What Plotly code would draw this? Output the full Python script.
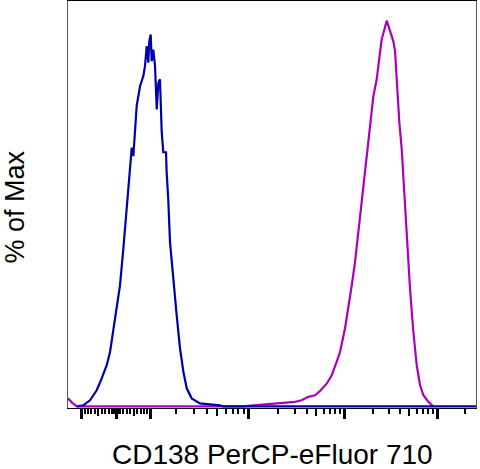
import numpy as np
import plotly.graph_objects as go

# ---- data: histogram traces on logicle display channels (0..256), % of Max ----
blue_ch = [5.5, 9.6, 13.8, 18.0, 21.1, 24.3, 26.4, 28.4, 30.6, 32.6, 34.7, 36.8, 38.9,
           40.0, 41.0, 41.4, 43.1, 45.2, 47.3, 48.3, 49.4, 50.4, 51.0, 51.9, 52.5, 53.5,
           54.6, 55.7, 56.7, 57.7, 58.8, 59.8, 61.5, 61.9, 62.9, 64.0, 66.1, 68.2, 70.3,
           72.4, 74.5, 77.6, 82.8, 95.4, 97.5, 256]
blue_pct = [0, 0.3, 1.6, 4.2, 7.2, 10.7, 14.2, 19.4, 25.3, 31.3, 40.8, 51.2, 62.4,
            67.1, 64.9, 67.5, 77.9, 83.0, 85.7, 88.2, 93.4, 89.1, 94.7, 96.4, 89.5, 92.5,
            88.2, 77.0, 83.9, 84.8, 71.1, 65.9, 65.9, 60.7, 53.7, 42.6, 32.3, 23.6, 15.0,
            9.0, 4.7, 2.1, 0.8, 0.3, 0, 0]

mag_ch = [0, 2.5, 5.5, 110, 116.3, 134.1, 142.4, 146.6, 150.8, 155.0, 158.1, 162.3,
          165.5, 168.6, 170.7, 173.8, 175.9, 178.0, 180.1, 182.2, 184.3, 187.4, 189.5,
          191.6, 193.7, 195.8, 196.8, 200.0, 204.1, 205.2, 206.3, 207.9, 209.4, 211.5,
          212.5, 214.6, 216.7, 218.8, 220.9, 223.0, 226.1, 229.2]
mag_pct = [2.1, 1.0, 0, 0, 0.3, 0.8, 1.2, 1.6, 2.5, 2.9, 4.0, 5.9,
           8.1, 11.6, 14.1, 20.2, 25.3, 31.3, 37.4, 45.1, 52.0, 64.9, 71.0,
           80.4, 84.8, 92.1, 95.1, 100.0, 94.7, 92.1, 83.0, 73.6, 66.7, 53.7,
           45.1, 30.5, 19.3, 10.7, 5.5, 2.9, 1.2, 0]

# tick values (fluorescence units)
major_ticks = [-100, 0, 100, 1000, 10000, 100000]
medium_ticks = [-50, 50, 500, 5000, 50000]
minor_ticks = ([-90, -80, -70, -60, -40, -30, -20, -10] + list(range(-9, 0)) + list(range(1, 10)) +
               [10, 20, 30, 40, 60, 70, 80, 90] + [200, 300, 400, 600, 700, 800, 900] +
               [2000, 3000, 4000, 6000, 7000, 8000, 9000] +
               [20000, 30000, 40000, 60000, 70000, 80000, 90000] + [200000])

x_title = "CD138 PerCP-eFluor 710"
y_title = "% of Max"

# ---- logicle scale (T, W, M) -> display channel ----
T, W, M, NCH = 262144.0, 0.52, 4.42, 256.0


def solve_p(w):
    lo, hi = 1.0001, 100.0
    for _ in range(200):
        mid = 0.5 * (lo + hi)
        if 2 * mid * np.log10(mid) / (mid + 1) < w:
            lo = mid
        else:
            hi = mid
    return 0.5 * (lo + hi)


P = solve_p(W)


def logicle_S(x):
    x = np.asarray(x, dtype=float)
    def pos(xx):
        return T * 10 ** (-(M - W)) * (10 ** (xx - W) - P ** 2 * 10 ** (-(xx - W) / P) + P ** 2 - 1)
    return np.where(x >= W, pos(x), -pos(2 * W - x))


_grid = np.linspace(-0.5, M + 0.5, 40001)
_S = logicle_S(_grid)


def to_channel(v):
    return np.interp(np.asarray(v, dtype=float), _S, _grid) / M * NCH


fig = go.Figure()
fig.add_trace(go.Scatter(x=mag_ch, y=mag_pct, mode="lines",
                         line=dict(color="#AA00BE", width=2.2), showlegend=False))
fig.add_trace(go.Scatter(x=blue_ch, y=blue_pct, mode="lines",
                         line=dict(color="#0000AA", width=2.2), showlegend=False))

xr = [0, NCH]
common = dict(range=xr, showgrid=False, zeroline=False, showticklabels=False,
              ticks="outside", tickcolor="black", tickmode="array", fixedrange=True)
fig.update_layout(
    width=480, height=469,
    margin=dict(l=68, r=4, t=1, b=61),
    paper_bgcolor="white", plot_bgcolor="white",
    xaxis=dict(**common, tickvals=list(to_channel(minor_ticks)), ticklen=5, tickwidth=1.5,
               showline=True, linecolor="black", linewidth=1, mirror=True),
    xaxis2=dict(**common, tickvals=list(to_channel(medium_ticks)), ticklen=7, tickwidth=2,
                overlaying="x", anchor="y", side="bottom", showline=False),
    xaxis3=dict(**common, tickvals=list(to_channel(major_ticks)), ticklen=10, tickwidth=2.5,
                overlaying="x", anchor="y", side="bottom", showline=False),
    yaxis=dict(range=[-0.4, 105.1], showgrid=False, zeroline=False, showticklabels=False,
               ticks="", showline=True, linecolor="#555555", linewidth=1, mirror=True,
               fixedrange=True),
    annotations=[
        dict(text=x_title, xref="paper", yref="paper", x=0.5, y=-0.115,
             xanchor="center", yanchor="middle", showarrow=False,
             font=dict(family="Liberation Sans, Arial", size=28, color="black")),
        dict(text=y_title, xref="paper", yref="paper", x=-0.131, y=0.494,
             xanchor="center", yanchor="middle", textangle=-90, showarrow=False,
             font=dict(family="Liberation Sans, Arial", size=27, color="black")),
    ],
)
# dummy traces so overlay axes render their ticks
fig.add_trace(go.Scatter(x=[None], y=[None], xaxis="x2", showlegend=False, hoverinfo="skip"))
fig.add_trace(go.Scatter(x=[None], y=[None], xaxis="x3", showlegend=False, hoverinfo="skip"))

fig.write_html("out.html", config={"displayModeBar": False},
               post_script="document.body.style.margin='0';document.body.style.overflow='hidden';")
